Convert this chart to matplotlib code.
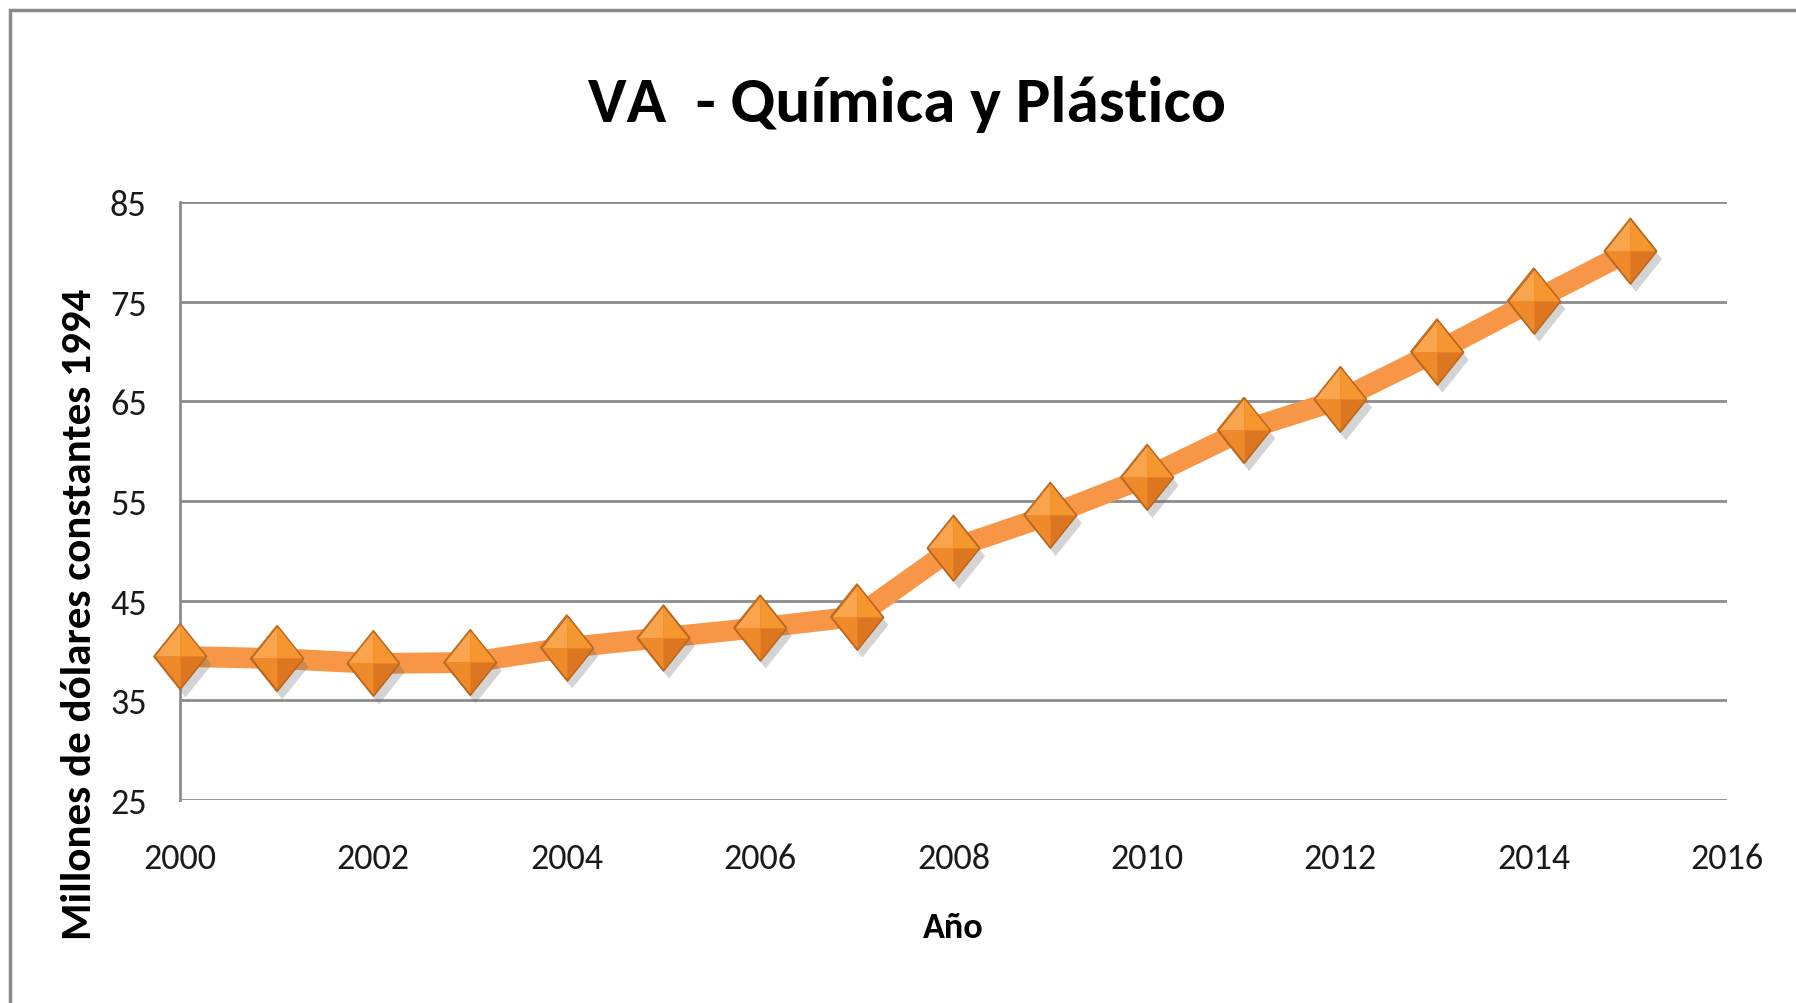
import matplotlib
matplotlib.use("Agg")
import matplotlib.pyplot as plt
import matplotlib.patheffects as pe
from matplotlib import font_manager
from matplotlib.patches import Rectangle
from matplotlib.path import Path

# data
years = [2000, 2001, 2002, 2003, 2004, 2005, 2006, 2007,
         2008, 2009, 2010, 2011, 2012, 2013, 2014, 2015]
va = [39.4, 39.2, 38.7, 38.8, 40.3, 41.3, 42.3, 43.4,
      50.3, 53.6, 57.4, 62.1, 65.2, 70.0, 75.1, 80.1]
y_ticks = [25, 35, 45, 55, 65, 75, 85]
x_ticks = [2000, 2002, 2004, 2006, 2008, 2010, 2012, 2014, 2016]

title = "VA  - Química y Plástico"
xlabel = "Año"
ylabel = "Millones de dólares constantes 1994"

# Calibri look-alike: Carlito if present, else Lato (Carlito is based on it)
installed = {f.name for f in font_manager.fontManager.ttflist}
main_font = next((n for n in ['Carlito', 'Lato', 'Open Sans'] if n in installed), 'DejaVu Sans')
fam = [main_font, 'DejaVu Sans']

line_color = '#F79646'
grid_color = '#8C8C8C'

fig = plt.figure(figsize=(17.96, 10.04), dpi=100)
ax = fig.add_axes([0.1002, 0.2022, 0.8614, 0.5956])

# outer chart frame (runs off the right/bottom edge)
fig.patches.append(Rectangle((10 / 1796, -0.05), 1.2, 1 - 11 / 1004 + 0.05,
                             transform=fig.transFigure, fill=False,
                             edgecolor='#8A8A8A', linewidth=2.5))

# diamond markers, a bit taller than wide, with simple bevel facets
w = 0.8
diamond = Path([(0, 1), (w, 0), (0, -1), (-w, 0), (0, 1)],
               [Path.MOVETO, Path.LINETO, Path.LINETO, Path.LINETO, Path.CLOSEPOLY])
top_left = Path([(0, 1), (0, 0), (-w, 0), (0, 1)],
                [Path.MOVETO, Path.LINETO, Path.LINETO, Path.CLOSEPOLY])
top_right = Path([(0, 1), (w, 0), (0, 0), (0, 1)],
                 [Path.MOVETO, Path.LINETO, Path.LINETO, Path.CLOSEPOLY])
bot_right = Path([(0, 0), (w, 0), (0, -1), (0, 0)],
                 [Path.MOVETO, Path.LINETO, Path.LINETO, Path.CLOSEPOLY])
msize = 47

ax.plot(years, va, color=line_color, linewidth=15, solid_capstyle='butt',
        solid_joinstyle='round', zorder=3, clip_on=False)
ax.plot(years, va, linestyle='none', marker=diamond, markersize=msize,
        markerfacecolor='#EE8A2A', markeredgecolor='#B9651E', markeredgewidth=1.0,
        zorder=4, clip_on=False,
        path_effects=[pe.SimplePatchShadow(offset=(4, -6), shadow_rgbFace='#666666', alpha=0.28),
                      pe.Normal()])
ax.plot(years, va, linestyle='none', marker=top_left, markersize=msize,
        markerfacecolor='#F9A54D', markeredgewidth=0, zorder=5, clip_on=False)
ax.plot(years, va, linestyle='none', marker=top_right, markersize=msize,
        markerfacecolor='#F5962F', markeredgewidth=0, zorder=5, clip_on=False)
ax.plot(years, va, linestyle='none', marker=bot_right, markersize=msize,
        markerfacecolor='#DC7620', markeredgewidth=0, zorder=5, clip_on=False)
ax.plot(years, va, linestyle='none', marker=diamond, markersize=msize,
        markerfacecolor='none', markeredgecolor='#B9651E', markeredgewidth=1.0,
        zorder=6, clip_on=False)

ax.set_xlim(2000, 2016)
ax.set_ylim(25, 85)
ax.set_xticks(x_ticks)
ax.set_yticks(y_ticks)
ax.tick_params(length=0, labelsize=26, labelcolor='#1A1A1A')
ax.tick_params(axis='y', pad=24)
ax.tick_params(axis='x', pad=30)
for lab in ax.get_xticklabels() + ax.get_yticklabels():
    lab.set_family(fam)

ax.grid(axis='y', color=grid_color, linewidth=2)
ax.set_axisbelow(True)
for side in ['top', 'right', 'bottom']:
    ax.spines[side].set_visible(False)
ax.spines['left'].set_color(grid_color)
ax.spines['left'].set_linewidth(2)

fig.text(0.505, 0.878, title, ha='center', va='baseline', fontsize=47,
         fontweight='bold', family=fam, color='black')
fig.text(0.531, 0.076, xlabel, ha='center', va='center', fontsize=26,
         fontweight='bold', family=fam, color='black')
fig.text(0.044, 0.388, ylabel, ha='center', va='center', rotation=90,
         fontsize=31, fontweight='bold', family=fam, color='black')

fig.savefig('out.png', dpi=100, facecolor='white')
